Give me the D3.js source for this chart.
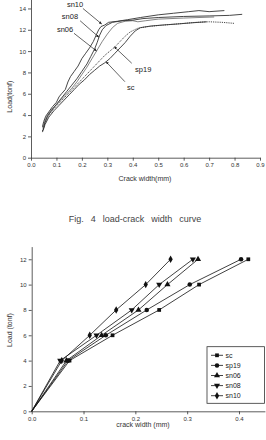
<!DOCTYPE html>
<html>
<head>
<meta charset="utf-8">
<script src="https://cdn.jsdelivr.net/npm/d3@7"></script>
<style>
  body { margin: 0; background: #fff; }
  svg { display: block; font-family: "Liberation Sans", Arial, sans-serif; }
  .axis path, .axis line { stroke: #333; stroke-width: 0.8; }
  .axis text { font-size: 6px; fill: #333; }
</style>
</head>
<body>
<svg id="chart" width="266" height="440"></svg>
<script>
// top chart: load-crack width curves, [crack width mm, load tonf]
const sn10Curve = [[0.045,2.9],[0.05,3.4],[0.058,3.9],[0.07,4.3],[0.085,4.8],[0.1,5.2],[0.11,5.7],[0.12,6.0],[0.135,6.4],[0.145,7.1],[0.155,7.6],[0.17,8.1],[0.185,8.6],[0.2,9.3],[0.215,9.8],[0.23,10.3],[0.245,10.9],[0.258,11.6],[0.266,12.0],[0.275,12.3],[0.29,12.45],[0.305,12.7],[0.34,12.8],[0.38,12.95],[0.43,13.15],[0.5,13.4],[0.56,13.55],[0.62,13.7],[0.66,13.8],[0.7,13.7],[0.76,13.8]];
const sn08Curve = [[0.048,2.6],[0.055,3.3],[0.065,3.9],[0.08,4.4],[0.1,5.0],[0.12,5.6],[0.14,6.2],[0.16,6.8],[0.18,7.4],[0.2,8.1],[0.22,8.8],[0.235,9.5],[0.25,10.2],[0.26,10.8],[0.27,11.5],[0.28,12.0],[0.295,12.4],[0.32,12.7],[0.36,12.85],[0.4,12.9],[0.44,13.05],[0.5,13.15],[0.6,13.25],[0.7,13.3],[0.78,13.35],[0.83,13.45]];
const sn06Curve = [[0.046,2.8],[0.055,3.5],[0.065,4.0],[0.08,4.5],[0.1,5.0],[0.12,5.5],[0.14,6.0],[0.16,6.5],[0.18,7.1],[0.2,7.8],[0.22,8.5],[0.24,9.3],[0.26,10.1],[0.28,10.9],[0.3,11.6],[0.32,12.2],[0.34,12.6],[0.37,12.8],[0.4,12.85],[0.42,12.75],[0.45,12.85],[0.5,13.0],[0.6,13.1],[0.72,13.2]];
const sp19Curve = [[0.045,2.5],[0.055,3.3],[0.07,4.0],[0.09,4.6],[0.11,5.1],[0.13,5.6],[0.15,6.1],[0.17,6.6],[0.19,7.1],[0.21,7.6],[0.23,8.1],[0.25,8.6],[0.27,9.1],[0.29,9.6],[0.31,10.0],[0.33,10.4],[0.35,10.9],[0.37,11.4],[0.39,11.8],[0.42,12.15],[0.46,12.3],[0.5,12.4],[0.55,12.5],[0.6,12.6],[0.65,12.7],[0.7,12.75],[0.75,12.7],[0.8,12.6]];
const scCurve = [[0.045,2.4],[0.055,3.1],[0.07,3.8],[0.09,4.4],[0.11,4.9],[0.13,5.4],[0.15,5.9],[0.17,6.4],[0.19,6.9],[0.21,7.3],[0.23,7.8],[0.25,8.2],[0.27,8.6],[0.29,8.9],[0.31,9.3],[0.33,9.8],[0.35,10.3],[0.37,10.8],[0.39,11.4],[0.41,11.9],[0.43,12.2],[0.47,12.35],[0.52,12.45],[0.58,12.55],[0.63,12.65],[0.69,12.75]];

// callout labels: text position, leader start, leader end (data units)
const callouts = [
  { name: 'sn10', text: [0.173,14.42], from: [0.204,14.0], to: [0.278,12.54] },
  { name: 'sn08', text: [0.153,13.23], from: [0.193,12.85], to: [0.267,11.3] },
  { name: 'sn06', text: [0.134,12.05], from: [0.169,11.67], to: [0.258,10.0] },
  { name: 'sp19', text: [0.441,8.32], from: [0.396,8.86], to: [0.327,10.41] },
  { name: 'sc',   text: [0.392,6.6],  from: [0.369,7.13], to: [0.295,9.0] },
];

// bottom chart: crack width at each load step
const loads = [0, 4, 6, 8, 10, 12];
const scWidth   = [0, 0.073, 0.156, 0.246, 0.323, 0.418];
const sp19Width = [0, 0.070, 0.143, 0.222, 0.305, 0.404];
const sn06Width = [0, 0.067, 0.135, 0.206, 0.262, 0.321];
const sn08Width = [0, 0.055, 0.125, 0.193, 0.246, 0.311];
const sn10Width = [0, 0.058, 0.112, 0.163, 0.220, 0.268];

const svg = d3.select('#chart');

// ---------- top chart ----------
const x1 = d3.scaleLinear().domain([0, 0.9]).range([31, 260]);
const y1 = d3.scaleLinear().domain([0, 15]).range([157.7, -2.2]);

function drawAxes(x, y, xMajor, xMinor, yMajor, yMinor, xFmt) {
  const gx = svg.append('g').attr('class', 'axis').attr('transform', `translate(0,${y.range()[0]})`);
  gx.call(d3.axisBottom(x).tickValues(xMinor).tickSize(1.5).tickFormat(''));
  gx.call(d3.axisBottom(x).tickValues(xMajor).tickSize(3).tickSizeOuter(0).tickPadding(2).tickFormat(xFmt));
  const gy = svg.append('g').attr('class', 'axis').attr('transform', `translate(${x.range()[0]},0)`);
  gy.call(d3.axisLeft(y).tickValues(yMinor).tickSize(1.5).tickFormat(''));
  gy.call(d3.axisLeft(y).tickValues(yMajor).tickSize(3).tickSizeOuter(0).tickPadding(2).tickFormat(d3.format('d')));
}

drawAxes(x1, y1,
  d3.range(0, 0.91, 0.1), d3.range(0.05, 0.9, 0.1),
  d3.range(0, 15, 2), d3.range(1, 15, 2), d3.format('.1f'));

const line1 = d3.line().x(d => x1(d[0])).y(d => y1(d[1]));
const topSeries = [
  { data: sn10Curve, dash: null, w: 0.9 },
  { data: sn08Curve, dash: null, w: 0.9 },
  { data: sn06Curve, dash: null, w: 0.6 },
  { data: sp19Curve, dash: '1.2,1', w: 0.9 },
  { data: scCurve, dash: null, w: 0.9 },
];
topSeries.forEach(s => {
  svg.append('path').datum(s.data)
    .attr('d', line1)
    .attr('fill', 'none')
    .attr('stroke', '#333')
    .attr('stroke-width', s.w)
    .attr('stroke-dasharray', s.dash);
});

svg.append('defs').append('marker')
  .attr('id', 'arr')
  .attr('viewBox', '0 -3 6 6')
  .attr('refX', 6).attr('refY', 0)
  .attr('markerWidth', 4).attr('markerHeight', 4)
  .attr('orient', 'auto')
  .append('path').attr('d', 'M0,-3L6,0L0,3').attr('fill', '#222');

callouts.forEach(c => {
  svg.append('line')
    .attr('x1', x1(c.from[0])).attr('y1', y1(c.from[1]))
    .attr('x2', x1(c.to[0])).attr('y2', y1(c.to[1]))
    .attr('stroke', '#222').attr('stroke-width', 0.7)
    .attr('marker-end', 'url(#arr)');
  svg.append('text')
    .attr('x', x1(c.text[0])).attr('y', y1(c.text[1]))
    .attr('text-anchor', 'middle').attr('dy', '0.35em')
    .attr('font-size', 7.5).attr('fill', '#222')
    .text(c.name);
});

svg.append('text').attr('x', 145).attr('y', 179).attr('dy', '0.35em')
  .attr('text-anchor', 'middle').attr('font-size', 7).attr('fill', '#333')
  .text('Crack width(mm)');
svg.append('text').attr('transform', 'translate(10,96.7) rotate(-90)').attr('dy', '0.35em')
  .attr('text-anchor', 'middle').attr('font-size', 7).attr('fill', '#333')
  .text('Load(tonf)');

svg.append('text').attr('x', 135).attr('y', 219).attr('dy', '0.35em')
  .attr('text-anchor', 'middle').attr('font-size', 9).attr('fill', '#444')
  .attr('word-spacing', 4.5)
  .text('Fig. 4 load-crack width curve');

// ---------- bottom chart ----------
const x2 = d3.scaleLinear().domain([0, 0.45]).range([31.7, 264.9]);
const y2 = d3.scaleLinear().domain([0, 13]).range([411.3, 246.6]);

drawAxes(x2, y2,
  d3.range(0, 0.41, 0.1), d3.range(0.05, 0.45, 0.1),
  d3.range(0, 13, 2), d3.range(1, 14, 2), d3.format('.1f'));

const bottomSeries = [
  { name: 'sc',   widths: scWidth,   sym: d3.symbolSquare,   size: 14, rot: 0 },
  { name: 'sp19', widths: sp19Width, sym: d3.symbolCircle,   size: 16, rot: 0 },
  { name: 'sn06', widths: sn06Width, sym: d3.symbolTriangle, size: 16, rot: 0 },
  { name: 'sn08', widths: sn08Width, sym: d3.symbolTriangle, size: 16, rot: 180 },
  { name: 'sn10', widths: sn10Width, sym: d3.symbolDiamond,  size: 16, rot: 0 },
];

const line2 = d3.line().x(d => x2(d[0])).y(d => y2(d[1]));
bottomSeries.forEach(s => {
  const pts = s.widths.map((w, i) => [w, loads[i]]);
  svg.append('path').datum(pts)
    .attr('d', line2)
    .attr('fill', 'none')
    .attr('stroke', '#111')
    .attr('stroke-width', 0.8);
  svg.append('g').selectAll('path').data(pts.slice(1)).join('path')
    .attr('d', d3.symbol(s.sym, s.size))
    .attr('transform', d => `translate(${x2(d[0])},${y2(d[1])}) rotate(${s.rot})`)
    .attr('fill', '#111');
});

// legend
const lg = svg.append('g').attr('transform', 'translate(207,346.7)');
lg.append('rect').attr('width', 57.5).attr('height', 56.6)
  .attr('fill', '#fff').attr('stroke', '#333').attr('stroke-width', 0.8);
bottomSeries.forEach((s, i) => {
  const yy = 8.6 + i * 10.1;
  lg.append('line').attr('x1', 4).attr('x2', 16).attr('y1', yy).attr('y2', yy)
    .attr('stroke', '#111').attr('stroke-width', 0.8);
  lg.append('path').attr('d', d3.symbol(s.sym, s.size))
    .attr('transform', `translate(10,${yy}) rotate(${s.rot})`).attr('fill', '#111');
  lg.append('text').attr('x', 18.5).attr('y', yy).attr('dy', '0.35em')
    .attr('font-size', 7).attr('fill', '#222').text(s.name);
});

svg.append('text').attr('x', 143).attr('y', 424.5).attr('dy', '0.35em')
  .attr('text-anchor', 'middle').attr('font-size', 7).attr('fill', '#333')
  .text('crack width (mm)');
svg.append('text').attr('transform', 'translate(9.3,330) rotate(-90)').attr('dy', '0.35em')
  .attr('text-anchor', 'middle').attr('font-size', 7).attr('fill', '#333')
  .text('Load (tonf)');
</script>
</body>
</html>
